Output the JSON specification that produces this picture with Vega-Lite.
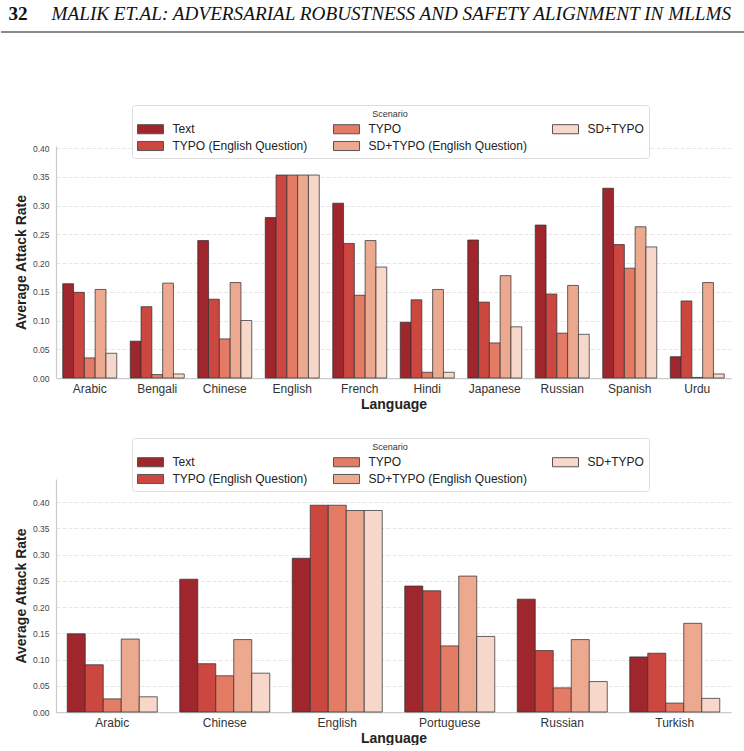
{
  "$schema": "https://vega.github.io/schema/vega-lite/v6.json",
  "background": "white",
  "padding": {"left": 0, "top": 4, "right": 0, "bottom": 0},
  "config": {
    "font": "Liberation Sans",
    "view": {"stroke": null}
  },
  "datasets": {
    "upper": [
      {"language": "Arabic", "scenario": "Text", "rate": 0.164},
      {"language": "Arabic", "scenario": "TYPO (English Question)", "rate": 0.149},
      {"language": "Arabic", "scenario": "TYPO", "rate": 0.035},
      {"language": "Arabic", "scenario": "SD+TYPO (English Question)", "rate": 0.154},
      {"language": "Arabic", "scenario": "SD+TYPO", "rate": 0.043},
      {"language": "Bengali", "scenario": "Text", "rate": 0.064},
      {"language": "Bengali", "scenario": "TYPO (English Question)", "rate": 0.124},
      {"language": "Bengali", "scenario": "TYPO", "rate": 0.006},
      {"language": "Bengali", "scenario": "SD+TYPO (English Question)", "rate": 0.165},
      {"language": "Bengali", "scenario": "SD+TYPO", "rate": 0.007},
      {"language": "Chinese", "scenario": "Text", "rate": 0.239},
      {"language": "Chinese", "scenario": "TYPO (English Question)", "rate": 0.137},
      {"language": "Chinese", "scenario": "TYPO", "rate": 0.068},
      {"language": "Chinese", "scenario": "SD+TYPO (English Question)", "rate": 0.166},
      {"language": "Chinese", "scenario": "SD+TYPO", "rate": 0.100},
      {"language": "English", "scenario": "Text", "rate": 0.279},
      {"language": "English", "scenario": "TYPO (English Question)", "rate": 0.353},
      {"language": "English", "scenario": "TYPO", "rate": 0.353},
      {"language": "English", "scenario": "SD+TYPO (English Question)", "rate": 0.353},
      {"language": "English", "scenario": "SD+TYPO", "rate": 0.353},
      {"language": "French", "scenario": "Text", "rate": 0.304},
      {"language": "French", "scenario": "TYPO (English Question)", "rate": 0.234},
      {"language": "French", "scenario": "TYPO", "rate": 0.144},
      {"language": "French", "scenario": "SD+TYPO (English Question)", "rate": 0.239},
      {"language": "French", "scenario": "SD+TYPO", "rate": 0.193},
      {"language": "Hindi", "scenario": "Text", "rate": 0.097},
      {"language": "Hindi", "scenario": "TYPO (English Question)", "rate": 0.136},
      {"language": "Hindi", "scenario": "TYPO", "rate": 0.010},
      {"language": "Hindi", "scenario": "SD+TYPO (English Question)", "rate": 0.154},
      {"language": "Hindi", "scenario": "SD+TYPO", "rate": 0.010},
      {"language": "Japanese", "scenario": "Text", "rate": 0.240},
      {"language": "Japanese", "scenario": "TYPO (English Question)", "rate": 0.132},
      {"language": "Japanese", "scenario": "TYPO", "rate": 0.061},
      {"language": "Japanese", "scenario": "SD+TYPO (English Question)", "rate": 0.178},
      {"language": "Japanese", "scenario": "SD+TYPO", "rate": 0.089},
      {"language": "Russian", "scenario": "Text", "rate": 0.266},
      {"language": "Russian", "scenario": "TYPO (English Question)", "rate": 0.146},
      {"language": "Russian", "scenario": "TYPO", "rate": 0.078},
      {"language": "Russian", "scenario": "SD+TYPO (English Question)", "rate": 0.161},
      {"language": "Russian", "scenario": "SD+TYPO", "rate": 0.076},
      {"language": "Spanish", "scenario": "Text", "rate": 0.330},
      {"language": "Spanish", "scenario": "TYPO (English Question)", "rate": 0.232},
      {"language": "Spanish", "scenario": "TYPO", "rate": 0.191},
      {"language": "Spanish", "scenario": "SD+TYPO (English Question)", "rate": 0.263},
      {"language": "Spanish", "scenario": "SD+TYPO", "rate": 0.228},
      {"language": "Urdu", "scenario": "Text", "rate": 0.037},
      {"language": "Urdu", "scenario": "TYPO (English Question)", "rate": 0.134},
      {"language": "Urdu", "scenario": "TYPO", "rate": 0.001},
      {"language": "Urdu", "scenario": "SD+TYPO (English Question)", "rate": 0.166},
      {"language": "Urdu", "scenario": "SD+TYPO", "rate": 0.007}
    ],
    "lower": [
      {"language": "Arabic", "scenario": "Text", "rate": 0.149},
      {"language": "Arabic", "scenario": "TYPO (English Question)", "rate": 0.090},
      {"language": "Arabic", "scenario": "TYPO", "rate": 0.025},
      {"language": "Arabic", "scenario": "SD+TYPO (English Question)", "rate": 0.139},
      {"language": "Arabic", "scenario": "SD+TYPO", "rate": 0.029},
      {"language": "Chinese", "scenario": "Text", "rate": 0.253},
      {"language": "Chinese", "scenario": "TYPO (English Question)", "rate": 0.092},
      {"language": "Chinese", "scenario": "TYPO", "rate": 0.069},
      {"language": "Chinese", "scenario": "SD+TYPO (English Question)", "rate": 0.138},
      {"language": "Chinese", "scenario": "SD+TYPO", "rate": 0.074},
      {"language": "English", "scenario": "Text", "rate": 0.293},
      {"language": "English", "scenario": "TYPO (English Question)", "rate": 0.394},
      {"language": "English", "scenario": "TYPO", "rate": 0.394},
      {"language": "English", "scenario": "SD+TYPO (English Question)", "rate": 0.384},
      {"language": "English", "scenario": "SD+TYPO", "rate": 0.384},
      {"language": "Portuguese", "scenario": "Text", "rate": 0.240},
      {"language": "Portuguese", "scenario": "TYPO (English Question)", "rate": 0.231},
      {"language": "Portuguese", "scenario": "TYPO", "rate": 0.126},
      {"language": "Portuguese", "scenario": "SD+TYPO (English Question)", "rate": 0.259},
      {"language": "Portuguese", "scenario": "SD+TYPO", "rate": 0.144},
      {"language": "Russian", "scenario": "Text", "rate": 0.215},
      {"language": "Russian", "scenario": "TYPO (English Question)", "rate": 0.117},
      {"language": "Russian", "scenario": "TYPO", "rate": 0.046},
      {"language": "Russian", "scenario": "SD+TYPO (English Question)", "rate": 0.138},
      {"language": "Russian", "scenario": "SD+TYPO", "rate": 0.058},
      {"language": "Turkish", "scenario": "Text", "rate": 0.105},
      {"language": "Turkish", "scenario": "TYPO (English Question)", "rate": 0.112},
      {"language": "Turkish", "scenario": "TYPO", "rate": 0.017},
      {"language": "Turkish", "scenario": "SD+TYPO (English Question)", "rate": 0.169},
      {"language": "Turkish", "scenario": "SD+TYPO", "rate": 0.026}
    ]
  },
  "spacing": 71,
  "vconcat": [
    {
      "width": 689,
      "height": 1,
      "data": {"values": [{"start": 0, "end": 1}]},
      "mark": {"type": "rule", "color": "#666666", "strokeWidth": 1.6},
      "encoding": {
        "x": {
          "field": "start", "type": "quantitative",
          "scale": {"domain": [0, 1], "range": [-55, 689]},
          "axis": {"orient": "top", "domain": false, "ticks": false, "labels": false, "grid": false, "values": [],
                   "title": "MALIK ET.AL: ADVERSARIAL ROBUSTNESS AND SAFETY ALIGNMENT IN MLLMS",
                   "titleX": -5, "titleY": -12, "titleAlign": "left", "titleBaseline": "alphabetic", "titleAngle": 0,
                   "titleFont": "Liberation Serif", "titleFontSize": 19.2, "titleFontStyle": "italic", "titleFontWeight": "normal", "titleColor": "#111111"}
        },
        "x2": {"field": "end"},
        "y": {
          "datum": 0, "type": "quantitative",
          "scale": {"domain": [0, 1]},
          "axis": {"orient": "left", "domain": false, "ticks": false, "labels": false, "grid": false, "values": [],
                   "title": "32",
                   "titleX": -48, "titleY": -12, "titleAlign": "left", "titleBaseline": "alphabetic", "titleAngle": 0,
                   "titleFont": "Liberation Serif", "titleFontSize": 19.2, "titleFontStyle": "normal", "titleFontWeight": "bold", "titleColor": "#111111"}
        }
      }
    },
    {
      "spacing": 26,
      "resolve": {"scale": {"color": "independent", "x": "independent", "y": "independent", "xOffset": "independent"}, "legend": {"color": "independent"}},
      "vconcat": [
        {
          "width": 675,
          "height": 232,
          "data": {"name": "upper"},
          "mark": {"type": "bar", "stroke": "#333333", "strokeWidth": 1, "strokeOpacity": 0.75},
          "encoding": {
            "x": {
              "field": "language", "type": "nominal",
              "scale": {"paddingInner": 0.2, "paddingOuter": 0.1},
              "axis": {"title": "Language", "titleFontSize": 14, "titleFontWeight": "bold", "titleColor": "#222222", "titlePadding": 3, "labelFontSize": 12, "labelColor": "#333333", "labelAngle": 0, "labelPadding": 5, "ticks": false, "domainColor": "#cccccc", "domainWidth": 1.25, "grid": false}
            },
            "xOffset": {
              "field": "scenario", "type": "nominal",
              "sort": ["Text", "TYPO (English Question)", "TYPO", "SD+TYPO (English Question)", "SD+TYPO"],
              "scale": {"paddingInner": 0, "paddingOuter": 0}
            },
            "y": {
              "field": "rate", "type": "quantitative",
              "scale": {"domain": [0, 0.4035], "nice": false},
              "axis": {"title": "Average Attack Rate", "titleFontSize": 14, "titleFontWeight": "bold", "titleColor": "#222222", "titlePadding": 4, "labelFontSize": 8.5, "labelColor": "#444444", "labelPadding": 7, "ticks": false, "domainColor": "#cccccc", "domainWidth": 1.25, "gridColor": "#e6e6e6", "gridDash": [4, 2], "values": [0, 0.05, 0.1, 0.15, 0.2, 0.25, 0.3, 0.35, 0.4], "format": ".2f"}
            },
            "color": {
              "field": "scenario", "type": "nominal",
              "scale": {
                "domain": ["Text", "TYPO (English Question)", "TYPO", "SD+TYPO (English Question)", "SD+TYPO"],
                "range": ["#9e262c", "#cb4740", "#e47b64", "#eda890", "#f8d7cb"]
              },
              "legend": {
                "orient": "none", "legendX": 76, "legendY": -41, "columns": 3,
                "title": "Scenario", "titleFontSize": 9, "titleFontWeight": "normal", "titleColor": "#333333", "titleAnchor": "middle", "titlePadding": 3,
                "labelFontSize": 12, "labelColor": "#222222", "labelOffset": 15, "labelLimit": 300,
                "symbolType": "M-2,-0.7H2V0.7H-2Z", "symbolSize": 169, "symbolOffset": 6.5, "symbolStrokeColor": "#555555", "symbolStrokeWidth": 1, "symbolOpacity": 1,
                "columnPadding": 23, "rowPadding": 3, "padding": 5,
                "fillColor": "rgba(255,255,255,0.85)", "strokeColor": "#dddddd", "cornerRadius": 3
              }
            }
          }
        },
        {
          "width": 675,
          "height": 233,
          "data": {"name": "lower"},
          "mark": {"type": "bar", "stroke": "#333333", "strokeWidth": 1, "strokeOpacity": 0.75},
          "encoding": {
            "x": {
              "field": "language", "type": "nominal",
              "scale": {"paddingInner": 0.2, "paddingOuter": 0.1},
              "axis": {"title": "Language", "titleFontSize": 14, "titleFontWeight": "bold", "titleColor": "#222222", "titlePadding": 3, "labelFontSize": 12, "labelColor": "#333333", "labelAngle": 0, "labelPadding": 5, "ticks": false, "domainColor": "#cccccc", "domainWidth": 1.25, "grid": false}
            },
            "xOffset": {
              "field": "scenario", "type": "nominal",
              "sort": ["Text", "TYPO (English Question)", "TYPO", "SD+TYPO (English Question)", "SD+TYPO"],
              "scale": {"paddingInner": 0, "paddingOuter": 0}
            },
            "y": {
              "field": "rate", "type": "quantitative",
              "scale": {"domain": [0, 0.444], "nice": false},
              "axis": {"title": "Average Attack Rate", "titleFontSize": 14, "titleFontWeight": "bold", "titleColor": "#222222", "titlePadding": 4, "labelFontSize": 8.5, "labelColor": "#444444", "labelPadding": 7, "ticks": false, "domainColor": "#cccccc", "domainWidth": 1.25, "gridColor": "#e6e6e6", "gridDash": [4, 2], "values": [0, 0.05, 0.1, 0.15, 0.2, 0.25, 0.3, 0.35, 0.4], "format": ".2f"}
            },
            "color": {
              "field": "scenario", "type": "nominal",
              "scale": {
                "domain": ["Text", "TYPO (English Question)", "TYPO", "SD+TYPO (English Question)", "SD+TYPO"],
                "range": ["#9e262c", "#cb4740", "#e47b64", "#eda890", "#f8d7cb"]
              },
              "legend": {
                "orient": "none", "legendX": 76, "legendY": -41, "columns": 3,
                "title": "Scenario", "titleFontSize": 9, "titleFontWeight": "normal", "titleColor": "#333333", "titleAnchor": "middle", "titlePadding": 3,
                "labelFontSize": 12, "labelColor": "#222222", "labelOffset": 15, "labelLimit": 300,
                "symbolType": "M-2,-0.7H2V0.7H-2Z", "symbolSize": 169, "symbolOffset": 6.5, "symbolStrokeColor": "#555555", "symbolStrokeWidth": 1, "symbolOpacity": 1,
                "columnPadding": 23, "rowPadding": 3, "padding": 5,
                "fillColor": "rgba(255,255,255,0.85)", "strokeColor": "#dddddd", "cornerRadius": 3
              }
            }
          }
        }
      ]
    }
  ]
}
